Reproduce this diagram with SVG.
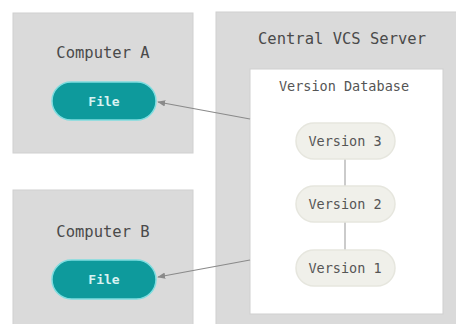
<svg xmlns="http://www.w3.org/2000/svg" width="456" height="324" viewBox="0 0 456 324">
  <defs>
    <style>
      .box { fill: #dadada; stroke: #d0d0d0; stroke-width: 1; }
      .db { fill: #ffffff; stroke: #cfcfcf; stroke-width: 1; }
      .title { font-family: "DejaVu Sans Mono", "Liberation Mono", monospace; font-size: 15.5px; fill: #4a4a4a; text-anchor: middle; }
      .sub { font-family: "DejaVu Sans Mono", "Liberation Mono", monospace; font-size: 13.5px; fill: #555555; text-anchor: middle; }
      .file { fill: #0e9a9c; stroke: #7fdde0; stroke-width: 1.5; }
      .filetxt { font-family: "DejaVu Sans Mono", "Liberation Mono", monospace; font-size: 13px; fill: #d8f2f2; text-anchor: middle; font-weight: bold; }
      .ver { fill: #f0f0ea; stroke: #e6e6de; stroke-width: 1.5; }
      .vertxt { font-family: "DejaVu Sans Mono", "Liberation Mono", monospace; font-size: 13.5px; fill: #555555; text-anchor: middle; }
      .arrow { stroke: #8a8a8a; stroke-width: 1.2; fill: none; }
      .link { stroke: #a8a8a8; stroke-width: 1.2; fill: none; }
    </style>
    <marker id="ah" viewBox="0 0 10 10" refX="9" refY="5" markerWidth="8" markerHeight="8" orient="auto-start-reverse" markerUnits="userSpaceOnUse">
      <path d="M0,1 L10,5 L0,9 z" fill="#8a8a8a"/>
    </marker>
  </defs>

  <rect width="456" height="324" fill="#ffffff"/>

  <g id="server">
    <rect class="box" x="216" y="12" width="245" height="320"/>
    <text class="title" x="342" y="44">Central VCS Server</text>
  </g>

  <g id="database">
    <rect class="db" x="250" y="69" width="193" height="245"/>
    <text class="sub" x="344" y="91">Version Database</text>
  </g>

  <g id="computerA">
    <rect class="box" x="13" y="13" width="180" height="140"/>
    <text class="title" x="103" y="58">Computer A</text>
  </g>

  <g id="computerB">
    <rect class="box" x="13" y="190" width="180" height="140"/>
    <text class="title" x="103" y="237">Computer B</text>
  </g>

  <g id="fileA">
    <rect class="file" x="52" y="82" width="104" height="38" rx="19"/>
    <text class="filetxt" x="104" y="105.5">File</text>
  </g>

  <g id="fileB">
    <rect class="file" x="52" y="260" width="104" height="39" rx="19.5"/>
    <text class="filetxt" x="104" y="284">File</text>
  </g>

  <g id="connectors">
    <line class="link" x1="345" y1="159" x2="345" y2="186"/>
    <line class="link" x1="345" y1="222" x2="345" y2="250"/>
    <line class="arrow" x1="250" y1="119" x2="158" y2="102" marker-end="url(#ah)"/>
    <line class="arrow" x1="250" y1="260" x2="158" y2="277" marker-end="url(#ah)"/>
  </g>

  <g id="version3">
    <rect class="ver" x="296" y="123" width="99" height="36" rx="18"/>
    <text class="vertxt" x="345" y="145.5">Version 3</text>
  </g>

  <g id="version2">
    <rect class="ver" x="296" y="186" width="99" height="36" rx="18"/>
    <text class="vertxt" x="345" y="208.5">Version 2</text>
  </g>

  <g id="version1">
    <rect class="ver" x="296" y="250" width="99" height="36" rx="18"/>
    <text class="vertxt" x="345" y="272.5">Version 1</text>
  </g>
</svg>
